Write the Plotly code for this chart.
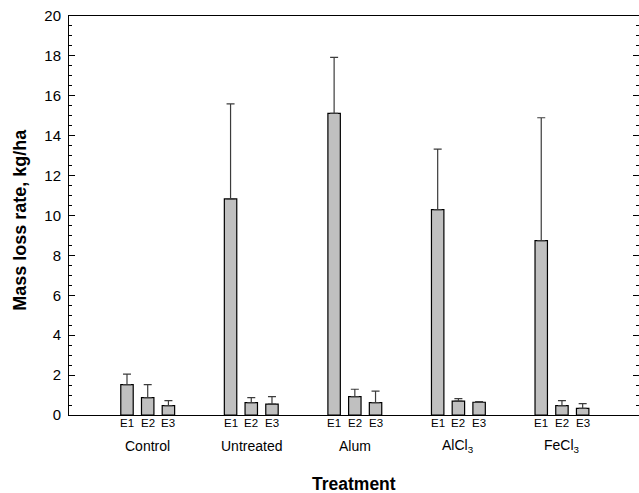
import plotly.graph_objects as go

groups = ["Control", "Untreated", "Alum", "AlCl<sub>3</sub>", "FeCl<sub>3</sub>"]
events = ["E1", "E2", "E3"]
mean_e1 = [1.52, 10.83, 15.12, 10.29, 8.74]
mean_e2 = [0.87, 0.62, 0.92, 0.70, 0.47]
mean_e3 = [0.47, 0.55, 0.62, 0.64, 0.33]
err_e1 = [0.53, 4.77, 2.81, 3.04, 6.16]
err_e2 = [0.65, 0.25, 0.37, 0.12, 0.25]
err_e3 = [0.25, 0.37, 0.58, 0.03, 0.24]
y_ticks = [0, 2, 4, 6, 8, 10, 12, 14, 16, 18, 20]

means = [mean_e1, mean_e2, mean_e3]
errs = [err_e1, err_e2, err_e3]

FONT = "Arial, Liberation Sans, sans-serif"
GROUP_STEP = len(events) + 2

fig = go.Figure()
annotations = []
for j, ev in enumerate(events):
    xs = [GROUP_STEP * i + j for i in range(len(groups))]
    fig.add_trace(go.Bar(
        x=xs, y=means[j], width=0.6, name=ev,
        marker=dict(color="#c0c0c0", line=dict(color="black", width=1.2)),
        error_y=dict(type="data", array=errs[j], arrayminus=[0] * len(xs),
                     symmetric=False, color="#3c3c3c", thickness=1.2, width=4),
        showlegend=False,
    ))
    for x in xs:
        annotations.append(dict(x=x, y=-0.019, xref="x", yref="paper", text=ev,
                                showarrow=False, yanchor="middle",
                                font=dict(family=FONT, size=11.5, color="black")))

# invisible trace to carry the right-hand tick axis
fig.add_trace(go.Scatter(x=[0], y=[0], yaxis="y2", mode="markers",
                         marker=dict(opacity=0), hoverinfo="skip", showlegend=False))

for i, g in enumerate(groups):
    annotations.append(dict(x=GROUP_STEP * i + 1, y=-0.077, xref="x", yref="paper",
                            text=g, showarrow=False, yanchor="middle",
                            font=dict(family=FONT, size=14, color="black")))
annotations.append(dict(x=0.5, y=-0.172, xref="paper", yref="paper",
                        text="<b>Treatment</b>", showarrow=False, yanchor="middle",
                        font=dict(family=FONT, size=17.5, color="black")))
annotations.append(dict(x=-0.086, y=0.489, xref="paper", yref="paper",
                        text="<b>Mass loss rate, kg/ha</b>", showarrow=False,
                        textangle=-90, xanchor="center", yanchor="middle",
                        font=dict(family=FONT, size=18, color="black")))

fig.update_layout(
    width=639, height=493,
    margin=dict(l=69, r=0, t=16, b=78),
    paper_bgcolor="white", plot_bgcolor="white",
    barmode="overlay",
    font=dict(family=FONT, color="black"),
    xaxis=dict(range=[-2.8, 24.72], showticklabels=False,
               ticks="", showline=True, linecolor="black", linewidth=1,
               mirror=True, showgrid=False, zeroline=False),
    yaxis=dict(range=[0, 20], tickvals=y_ticks, ticks="inside", ticklen=6,
               tickcolor="black", showline=True, linecolor="black", linewidth=1,
               mirror=False, showgrid=False, zeroline=False,
               ticklabelstandoff=4,
               tickfont=dict(family=FONT, size=15, color="black"),
               minor=dict(dtick=0.5, ticks="inside", ticklen=3, tickcolor="black",
                          showgrid=False)),
    yaxis2=dict(range=[0, 20], overlaying="y", side="right", anchor="x",
                tickvals=y_ticks, ticks="inside", ticklen=6, tickcolor="black",
                showticklabels=False, showline=False, showgrid=False, zeroline=False,
                minor=dict(dtick=0.5, ticks="inside", ticklen=3, tickcolor="black",
                           showgrid=False)),
    annotations=annotations,
)

fig.write_html("out.html", config={"displayModeBar": False},
               post_script="document.body.style.margin='0';document.body.style.overflow='hidden';")
